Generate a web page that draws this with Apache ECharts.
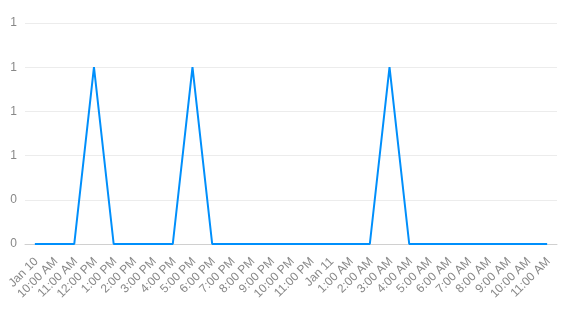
<!DOCTYPE html>
<html>
<head>
<meta charset="utf-8">
<script src="https://cdn.jsdelivr.net/npm/echarts@6/dist/echarts.min.js"></script>
<style>
html,body{margin:0;padding:0;background:#fff;}
#chart{width:564px;height:310px;}
</style>
</head>
<body>
<div id="chart"></div>
<script>
var categories = ["Jan 10","10:00 AM","11:00 AM","12:00 PM","1:00 PM","2:00 PM","3:00 PM","4:00 PM","5:00 PM","6:00 PM","7:00 PM","8:00 PM","9:00 PM","10:00 PM","11:00 PM","Jan 11","1:00 AM","2:00 AM","3:00 AM","4:00 AM","5:00 AM","6:00 AM","7:00 AM","8:00 AM","9:00 AM","10:00 AM","11:00 AM"];
var values = [0,0,0,1,0,0,0,0,1,0,0,0,0,0,0,0,0,0,1,0,0,0,0,0,0,0,0];
var yTicks = {min:0, max:1.25, interval:0.25};

var chart = echarts.init(document.getElementById('chart'));
chart.setOption({
  animation:false,
  textStyle:{fontFamily:'Liberation Sans, Arial, sans-serif'},
  grid:{left:25, right:7, top:23, bottom:66},
  xAxis:{
    type:'category',
    data:categories,
    boundaryGap:true,
    axisLine:{lineStyle:{color:'#d0d0d0'}},
    axisTick:{alignWithLabel:true, length:6, lineStyle:{color:'#d0d0d0'}},
    axisLabel:{interval:0, rotate:45, color:'#888', fontSize:12, margin:17, padding:[0,-2,0,0]}
  },
  yAxis:{
    type:'value',
    min:yTicks.min, max:yTicks.max, interval:yTicks.interval,
    axisLine:{show:false},
    axisTick:{show:false},
    splitLine:{lineStyle:{color:'#ececec'}},
    axisLabel:{color:'#888', fontSize:12, margin:8, formatter:function(v){return Math.round(v).toString();}}
  },
  series:[{
    type:'line',
    data:values,
    symbol:'none',
    lineStyle:{color:'#008FFB', width:2},
    itemStyle:{color:'#008FFB'}
  }]
});
</script>
</body>
</html>
